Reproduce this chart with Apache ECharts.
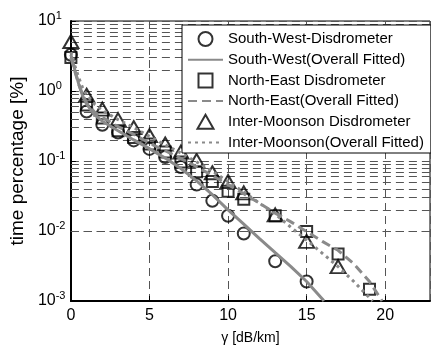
<!DOCTYPE html>
<html>
<head>
<meta charset="utf-8">
<script src="https://cdn.jsdelivr.net/npm/echarts@6/dist/echarts.min.js"></script>
<style>
html,body{margin:0;padding:0;background:#fff;}
#lineDiv{width:431px;height:350px;}
</style>
</head>
<body>
<div id="lineDiv"></div>
<script>
// measured points (disdrometer)
var swX = [0, 1, 2, 3, 4, 5, 6, 7, 8, 9, 10, 11, 13, 15];
var swY = [3.3, 0.51, 0.33, 0.255, 0.197, 0.149, 0.114, 0.082, 0.046, 0.027, 0.0165, 0.0092, 0.0037, 0.0019];
var neX = [0, 1, 2, 3, 4, 5, 6, 7, 8, 9, 10, 11, 13, 15, 17, 19];
var neY = [3.0, 0.63, 0.41, 0.27, 0.217, 0.175, 0.134, 0.097, 0.070, 0.051, 0.037, 0.0285, 0.0165, 0.0098, 0.0047, 0.00147];
var imX = [0, 1, 2, 3, 4, 5, 6, 7, 8, 9, 10, 11, 13, 15, 17];
var imY = [5.1, 0.87, 0.55, 0.39, 0.30, 0.23, 0.175, 0.134, 0.102, 0.068, 0.051, 0.035, 0.017, 0.0071, 0.0031];

// fitted curves
var swFitX = [0, 0.25, 0.5, 0.75, 1, 1.5, 2, 3, 4, 5, 6, 7, 8, 9, 10, 11, 12, 13, 14, 15, 16, 16.1];
var swFitY = [3.3, 2.0, 1.25, 0.85, 0.65, 0.46, 0.37, 0.27, 0.2, 0.15, 0.11, 0.078, 0.052, 0.033, 0.02, 0.0125, 0.0078, 0.0049, 0.0031, 0.0019, 0.00107, 0.001];
var neFitX = [0, 0.25, 0.5, 0.75, 1, 1.5, 2, 3, 4, 5, 6, 7, 8, 9, 10, 11, 12, 13, 14, 15, 16, 17, 18, 19, 19.8];
var neFitY = [3.0, 1.9, 1.25, 0.88, 0.68, 0.5, 0.42, 0.31, 0.24, 0.18, 0.14, 0.108, 0.083, 0.062, 0.046, 0.034, 0.025, 0.018, 0.0135, 0.0098, 0.0071, 0.0053, 0.0034, 0.0019, 0.001];
var imFitX = [0, 0.25, 0.5, 0.75, 1, 1.5, 2, 3, 4, 5, 6, 7, 8, 9, 10, 11, 12, 13, 14, 15, 16, 17, 18, 19.2];
var imFitY = [3.6, 2.3, 1.55, 1.1, 0.88, 0.65, 0.53, 0.39, 0.3, 0.225, 0.17, 0.13, 0.097, 0.071, 0.051, 0.036, 0.025, 0.0175, 0.0113, 0.0074, 0.0048, 0.0031, 0.0019, 0.001];

var xTicks = [0, 5, 10, 15, 20];
var legendNames = [
	'South-West-Disdrometer',
	'South-West(Overall Fitted)',
	'North-East Disdrometer',
	'North-East(Overall Fitted)',
	'Inter-Moonson Disdrometer',
	'Inter-Moonson(Overall Fitted)'
];

var FONT = 'Liberation Sans';
var GRID_COLOR = '#555';

function pairs(xs, ys){
	var out = [];
	for (var i = 0; i < xs.length; i++) {
		out.push([xs[i], ys[i]]);
	}
	return out;
}

// minor log grid lines 2..9 in each decade
var minorLines = [];
for (var d = -3; d < 1; d++) {
	for (var k = 2; k <= 9; k++) {
		minorLines.push({yAxis: k * Math.pow(10, d)});
	}
}

var markerStyle = {color: 'rgba(0,0,0,0)', borderColor: '#000', borderWidth: 2};
var fitColor = '#8a8a8a';
// legend icons that keep their aspect
var squareIcon = 'path://M0,0L10,0L10,10L0,10Z';
var triIcon = 'path://M6,0L12,10.5L0,10.5Z';

var option = {
	backgroundColor: '#fff',
	animation: false,
	textStyle: {fontFamily: FONT},
	grid: {
		left: 68,
		right: 1,
		top: 21,
		bottom: 43,
		show: true,
		borderColor: '#000',
		borderWidth: 1
	},
	legend: {
		orient: 'vertical',
		left: 182,
		top: 25,
		padding: [6, 7, 3, 5],
		itemWidth: 35,
		itemHeight: 14,
		itemGap: 5.2,
		backgroundColor: '#fff',
		borderColor: '#000',
		borderWidth: 1,
		borderRadius: 0,
		symbolKeepAspect: true,
		data: [
			{name: legendNames[0], icon: 'circle'},
			{name: legendNames[1]},
			{name: legendNames[2], icon: squareIcon},
			{name: legendNames[3]},
			{name: legendNames[4], icon: triIcon},
			{name: legendNames[5]}
		],
		textStyle: {fontFamily: FONT, fontSize: 15, lineHeight: 14, color: '#000', padding: [0, 0, 0, 0]}
	},
	xAxis: {
		type: 'value',
		min: 0,
		max: 22.85,
		interval: 5,
		name: 'γ [dB/km]',
		nameLocation: 'middle',
		nameGap: 30,
		nameTextStyle: {fontFamily: FONT, fontSize: 14, color: '#000'},
		axisLine: {lineStyle: {color: '#000', width: 2}},
		axisTick: {inside: true, length: 5, lineStyle: {color: '#000'}},
		axisLabel: {
			fontFamily: FONT, fontSize: 16, color: '#000', margin: 7,
			showMaxLabel: false,
			formatter: function(v){ return xTicks.indexOf(v) >= 0 ? String(v) : ''; }
		},
		splitLine: {show: true, lineStyle: {color: GRID_COLOR, type: [8, 5], width: 1}}
	},
	yAxis: {
		type: 'log',
		logBase: 10,
		min: 0.001,
		max: 10,
		interval: 1,
		name: 'time percentage [%]',
		nameLocation: 'middle',
		nameGap: 41,
		nameTextStyle: {fontFamily: FONT, fontSize: 19, color: '#000'},
		axisLine: {lineStyle: {color: '#000', width: 2}},
		axisTick: {inside: true, length: 5, lineStyle: {color: '#000'}},
		axisLabel: {
			align: 'left',
			margin: 33,
			formatter: function(v){
				var e = Math.round(Math.log(v) / Math.LN10);
				return '{b|10}{s|' + e + '}';
			},
			rich: {
				b: {fontFamily: FONT, fontSize: 16, color: '#000'},
				s: {fontFamily: FONT, fontSize: 11, color: '#000', padding: [0, 0, 10, 0]}
			}
		},
		splitLine: {show: true, lineStyle: {color: GRID_COLOR, type: [8, 5], width: 1}}
	},
	series: [{
		name: legendNames[0],
		type: 'scatter',
		symbol: 'circle',
		symbolSize: 12,
		itemStyle: markerStyle,
		data: pairs(swX, swY),
		markLine: {
			silent: true,
			symbol: ['none', 'none'],
			z: 1,
			label: {show: false},
			lineStyle: {color: GRID_COLOR, type: [8, 5], width: 1},
			data: minorLines
		}
	}, {
		name: legendNames[1],
		type: 'line',
		symbol: 'none',
		lineStyle: {color: fitColor, width: 3, type: 'solid'},
		itemStyle: {color: 'rgba(0,0,0,0)', borderWidth: 0},
		data: pairs(swFitX, swFitY)
	}, {
		name: legendNames[2],
		type: 'scatter',
		symbol: 'rect',
		symbolSize: 11,
		itemStyle: markerStyle,
		data: pairs(neX, neY)
	}, {
		name: legendNames[3],
		type: 'line',
		symbol: 'none',
		lineStyle: {color: fitColor, width: 3, type: [9, 5]},
		itemStyle: {color: 'rgba(0,0,0,0)', borderWidth: 0},
		data: pairs(neFitX, neFitY)
	}, {
		name: legendNames[4],
		type: 'scatter',
		symbol: 'triangle',
		symbolSize: [15, 13],
		itemStyle: markerStyle,
		data: pairs(imX, imY)
	}, {
		name: legendNames[5],
		type: 'line',
		symbol: 'none',
		lineStyle: {color: fitColor, width: 3, type: [3, 4]},
		itemStyle: {color: 'rgba(0,0,0,0)', borderWidth: 0},
		data: pairs(imFitX, imFitY)
	}]
};

var myChart = echarts.init(document.getElementById('lineDiv'));
myChart.setOption(option);
</script>
</body>
</html>
